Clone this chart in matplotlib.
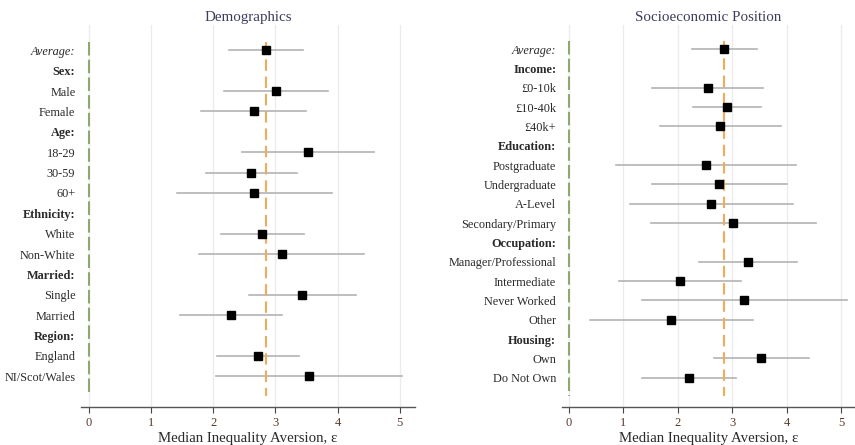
import matplotlib
matplotlib.use("Agg")
import matplotlib.pyplot as plt
import numpy as np

plt.rcParams["font.family"] = ["Liberation Serif", "DejaVu Serif"]

# ---------------------------------------------------------------------------
# Data
# ---------------------------------------------------------------------------
demo_labels = ["Average:", "Sex:", "Male", "Female", "Age:", "18-29", "30-59",
               "60+", "Ethnicity:", "White", "Non-White", "Married:", "Single",
               "Married", "Region:", "England", "NI/Scot/Wales"]
demo_est = [2.85, None, 3.01, 2.65, None, 3.52, 2.61, 2.66, None, 2.79, 3.10,
            None, 3.43, 2.29, None, 2.72, 3.54]
demo_lo = [2.25, None, 2.17, 1.80, None, 2.46, 1.88, 1.42, None, 2.13, 1.77,
           None, 2.57, 1.46, None, 2.06, 2.05]
demo_hi = [3.45, None, 3.85, 3.49, None, 4.58, 3.34, 3.91, None, 3.46, 4.43,
           None, 4.30, 3.11, None, 3.38, 5.03]

socio_labels = ["Average:", "Income:", "£0-10k", "£10-40k", "£40k+",
                "Education:", "Postgraduate", "Undergraduate", "A-Level",
                "Secondary/Primary", "Occupation:", "Manager/Professional",
                "Intermediate", "Never Worked", "Other", "Housing:", "Own",
                "Do Not Own"]
socio_est = [2.85, None, 2.55, 2.90, 2.78, None, 2.51, 2.76, 2.61, 3.01, None,
             3.28, 2.04, 3.22, 1.88, None, 3.52, 2.21]
socio_lo = [2.26, None, 1.53, 2.27, 1.68, None, 0.86, 1.52, 1.12, 1.50, None,
            2.38, 0.92, 1.35, 0.39, None, 2.66, 1.35]
socio_hi = [3.45, None, 3.56, 3.53, 3.89, None, 4.17, 4.00, 4.12, 4.54, None,
            4.18, 3.15, 5.10, 3.37, None, 4.40, 3.07]

overall_avg = 2.85

_COLOR_CI = "#b3b3b3"
_COLOR_AVG = "#f0ac5c"
_COLOR_ZERO = "#8ea870"
_COLOR_TEXT = "#2a2a2a"
_COLOR_TITLE = "#3c3c5c"


def _draw_panel(ax, labels, est, lo, hi, title):
    n = len(labels)
    rows = np.arange(n)
    for x in range(6):
        ax.axvline(x, color="#ececec", linewidth=1.0, zorder=0)
    ax.vlines(0, -0.4, n - 1 + 0.95, color=_COLOR_ZERO, linewidth=1.5,
              linestyles=(0, (6.5, 2)), zorder=2)
    ax.vlines(overall_avg, -0.4, n - 1 + 0.95, color=_COLOR_AVG, linewidth=1.5,
              linestyles=(0, (5.5, 2.8)), zorder=2)
    for r, e, l, h in zip(rows, est, lo, hi):
        if e is None:
            continue
        ax.plot([l, h], [r, r], color=_COLOR_CI, linewidth=1.2, zorder=1)
        ax.plot([e], [r], marker="s", color="black", markersize=5.5,
                linestyle="none", zorder=3)
    ax.set_xlim(-0.13, 5.25)
    ax.set_ylim(n - 1 + 1.5, -1.25)
    ax.set_yticks(rows)
    ax.set_yticklabels(labels)
    for lab in ax.get_yticklabels():
        txt = lab.get_text()
        lab.set_color(_COLOR_TEXT)
        lab.set_fontsize(8.8)
        if txt == "Average:":
            lab.set_style("italic")
        elif txt.endswith(":"):
            lab.set_weight("bold")
    ax.tick_params(axis="y", length=0, pad=4)
    ax.set_xticks(range(6))
    ax.tick_params(axis="x", colors="#444444", labelcolor="#5a3a2a",
                   labelsize=9, length=4, width=0.8, direction="out")
    for side in ("left", "right", "top"):
        ax.spines[side].set_visible(False)
    ax.spines["bottom"].set_color("#555555")
    ax.spines["bottom"].set_linewidth(1.0)
    ax.set_xlabel("Median Inequality Aversion, ε", fontsize=10.7,
                  color=_COLOR_TEXT, labelpad=2)
    ax.set_title(title, fontsize=10.8, color=_COLOR_TITLE, pad=3)


fig = plt.figure(figsize=(8.55, 4.45), dpi=100)
ax1 = fig.add_axes([0.0947, 0.086, 0.391, 0.858])
ax2 = fig.add_axes([0.657, 0.086, 0.343, 0.858])
_draw_panel(ax1, demo_labels, demo_est, demo_lo, demo_hi, "Demographics")
_draw_panel(ax2, socio_labels, socio_est, socio_lo, socio_hi,
            "Socioeconomic Position")
fig.savefig("out.png", dpi=100)
